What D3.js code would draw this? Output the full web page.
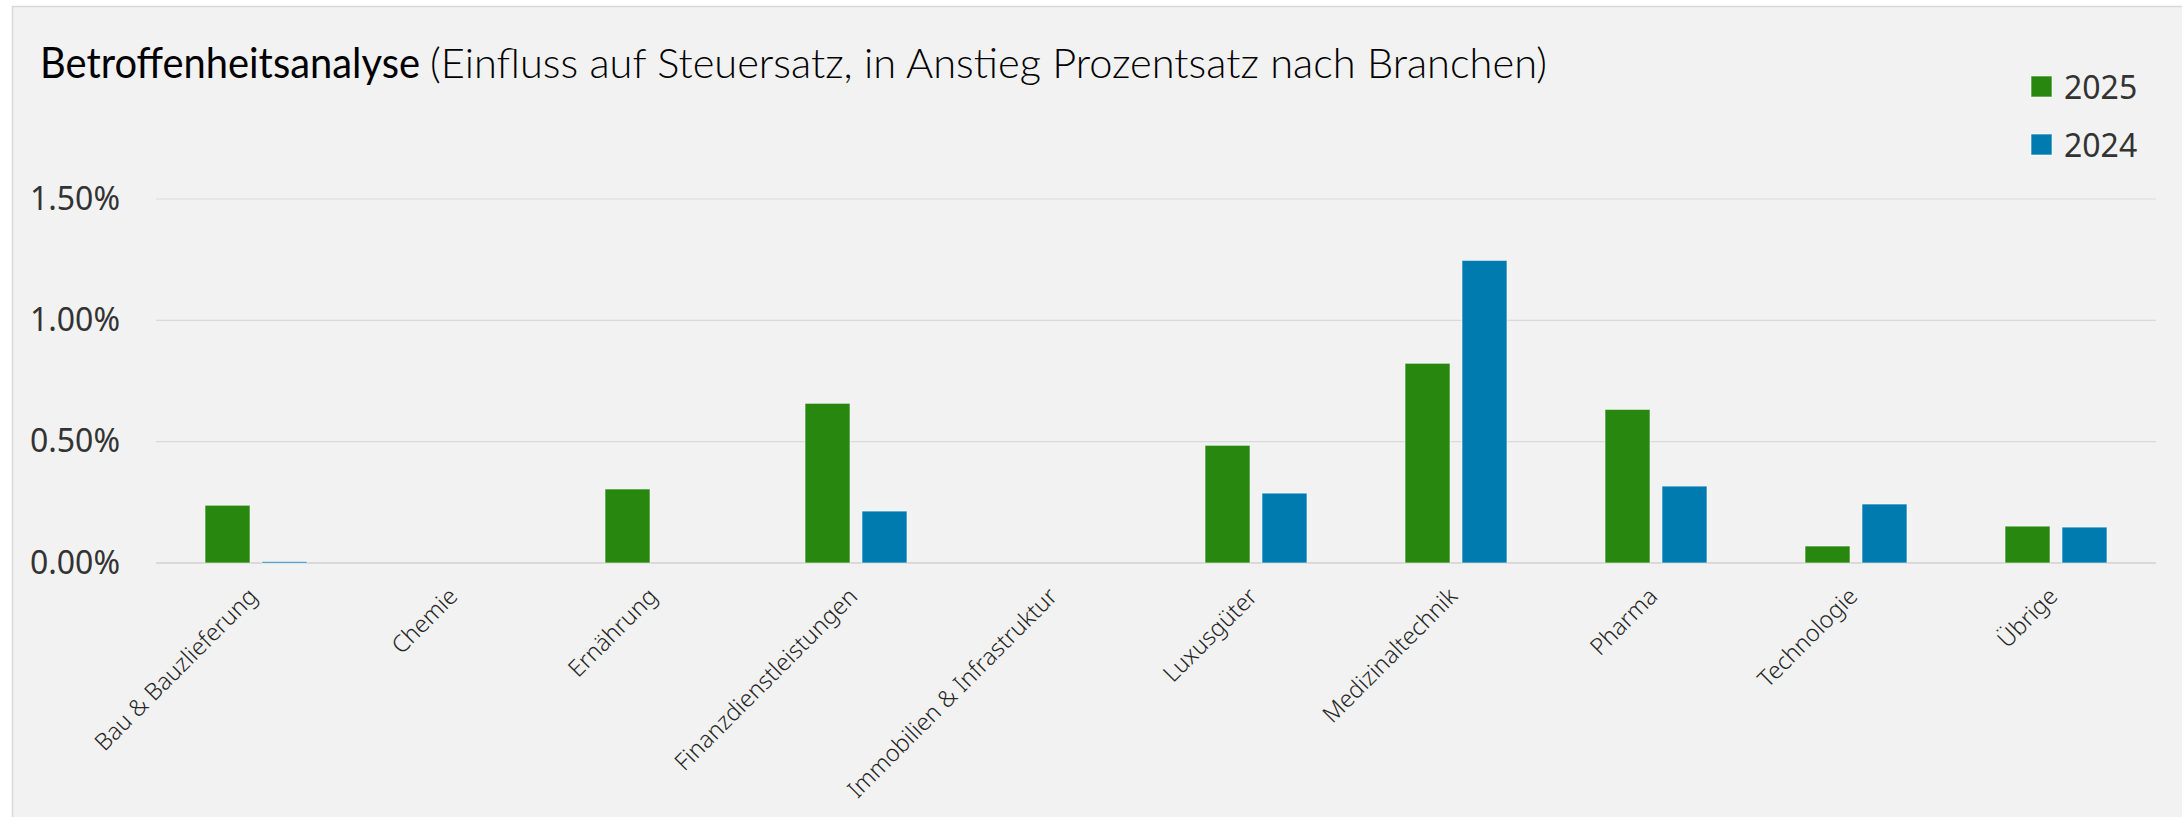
<!DOCTYPE html>
<html>
<head>
<meta charset="utf-8">
<script src="https://cdn.jsdelivr.net/npm/d3@7"></script>
<style>
    body { margin: 0; background: #ffffff; }
    svg { display: block; }
</style>
</head>
<body>
<svg id="chart"></svg>
<script>
// Data (values in percent)
const categories = [
    "Bau & Bauzlieferung", "Chemie", "Ernährung", "Finanzdienstleistungen",
    "Immobilien & Infrastruktur", "Luxusgüter", "Medizinaltechnik", "Pharma",
    "Technologie", "Übrige"
];
const series = ["2025", "2024"];
const values2025 = [0.238, 0, 0.305, 0.658, 0, 0.485, 0.823, 0.633, 0.070, 0.152];
const values2024 = [0.006, 0, 0, 0.214, 0, 0.288, 1.247, 0.317, 0.243, 0.148];
const yTicks = [0, 0.5, 1.0, 1.5];
const titleMain = "Betroffenheitsanalyse";
const titleSub = "(Einfluss auf Steuersatz, in Anstieg Prozentsatz nach Branchen)";

const W = 2182, H = 817;
const colors = { "2025": "#28870E", "2024": "#007BB0" };

const svg = d3.select("#chart")
    .attr("width", W)
    .attr("height", H);

// chart area background + border
svg.append("rect")
    .attr("x", 12.5)
    .attr("y", 6.5)
    .attr("width", W + 10)
    .attr("height", H + 10)
    .attr("fill", "#F2F2F2")
    .attr("stroke", "#D9D9D9")
    .attr("stroke-width", 1.5);

// Title
const title = svg.append("text")
    .attr("x", 40)
    .attr("y", 78)
    .attr("fill", "#000")
    .style("font-family", "Lato, 'Open Sans', sans-serif");
title.append("tspan")
    .attr("font-size", "42px")
    .attr("textLength", 380)
    .attr("lengthAdjust", "spacingAndGlyphs")
    .text(titleMain);
title.append("tspan")
    .attr("x", 430)
    .attr("font-size", "42px")
    .attr("font-weight", 300)
    .attr("textLength", 1117)
    .attr("lengthAdjust", "spacingAndGlyphs")
    .text(titleSub);

// Scales
const plot = { left: 156, right: 2156, top: 199, bottom: 563 };

const x0 = d3.scaleBand()
    .domain(categories)
    .range([plot.left, plot.right]);

const x1 = d3.scaleBand()
    .domain(series)
    .range([0, x0.bandwidth()])
    .paddingInner(0.21)
    .paddingOuter(0.86);

const y = d3.scaleLinear()
    .domain([0, 1.5])
    .range([plot.bottom, plot.top]);

// Gridlines
svg.append("g")
    .selectAll("line")
    .data(yTicks)
    .enter().append("line")
    .attr("x1", plot.left)
    .attr("x2", plot.right)
    .attr("y1", d => y(d))
    .attr("y2", d => y(d))
    .attr("stroke", "#D9D9D9")
    .attr("stroke-width", d => d === 0 ? 2 : 1.2);

// Y axis labels
const yAxis = svg.append("g")
    .attr("transform", `translate(${plot.left - 36},0)`)
    .call(d3.axisLeft(y).tickValues(yTicks).tickSize(0).tickPadding(0)
        .tickFormat(d => d3.format(".2f")(d) + "%"));
yAxis.select(".domain").remove();
yAxis.selectAll("text")
    .attr("fill", "#333333")
    .style("font-family", "'Noto Sans', 'Open Sans', sans-serif")
    .style("font-size", "32px");

// Bars
const rows = categories.map((c, i) => ({
    category: c,
    values: [
        { key: "2025", value: values2025[i] },
        { key: "2024", value: values2024[i] }
    ]
}));

const groups = svg.append("g")
    .selectAll("g")
    .data(rows)
    .enter().append("g")
    .attr("transform", d => `translate(${x0(d.category)},0)`);

groups.selectAll("rect")
    .data(d => d.values.filter(v => v.value > 0))
    .enter().append("rect")
    .attr("x", d => x1(d.key))
    .attr("width", x1.bandwidth())
    .attr("y", d => y(d.value))
    .attr("height", d => y(0) - y(d.value))
    .attr("fill", d => colors[d.key])
    .attr("stroke", "#ffffff")
    .attr("stroke-opacity", 0.6)
    .attr("stroke-width", 1);

// X axis labels
const xAxis = svg.append("g")
    .attr("transform", `translate(0,${plot.bottom})`)
    .call(d3.axisBottom(x0).tickSize(0).tickPadding(0));
xAxis.select(".domain").remove();
xAxis.selectAll("text")
    .attr("y", 0)
    .attr("dy", "0.35em")
    .attr("text-anchor", "end")
    .attr("transform", "translate(-3,29) rotate(-45)")
    .attr("fill", "#262626")
    .style("font-family", "'Noto Sans', 'Open Sans', sans-serif")
    .style("font-weight", 300)
    .style("font-size", "23.5px");

// Legend
const legend = svg.append("g")
    .selectAll("g")
    .data(series)
    .enter().append("g")
    .attr("transform", (d, i) => `translate(2031,${76 + i * 58})`);

legend.append("rect")
    .attr("width", 21)
    .attr("height", 21)
    .attr("fill", d => colors[d])
    .attr("stroke", "#ffffff")
    .attr("stroke-opacity", 0.6)
    .attr("stroke-width", 1);

legend.append("text")
    .attr("x", 33)
    .attr("y", 23)
    .attr("fill", "#333333")
    .style("font-family", "'Noto Sans', 'Open Sans', sans-serif")
    .style("font-size", "32px")
    .text(d => d);
</script>
</body>
</html>
